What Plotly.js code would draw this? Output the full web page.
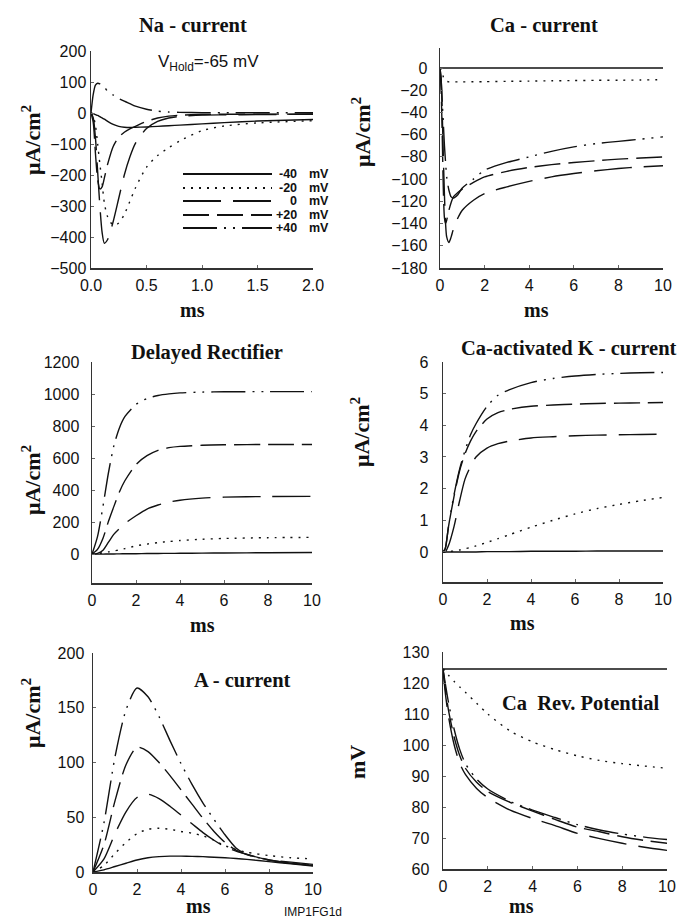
<!DOCTYPE html>
<html><head><meta charset="utf-8">
<script src="https://cdn.plot.ly/plotly-3.0.1.min.js"></script>
<style>html,body{margin:0;padding:0;background:#fff}#chart{width:684px;height:918px}</style>
</head><body><div id="chart"></div>
<script>
// Voltage steps (legend)
const voltages = ['-40', '-20', '0', '+20', '+40'];
const voltUnit = 'mV';

// Na current (ms, uA/cm2)
const naT   = [0,0.02,0.04,0.06,0.08,0.10,0.12,0.15,0.20,0.25,0.30,0.35,0.40,0.50,0.60,0.70,0.80,1.0,1.2,1.5,2.0];
const naM40 = [0,-2,-5,-8,-12,-16,-20,-27,-37,-43,-46,-47,-46,-45,-43,-41,-39,-35,-31,-26,-21];
const naM20 = [0,-10,-40,-100,-165,-225,-290,-335,-362,-355,-327,-285,-242,-175,-137,-112,-90,-57,-42,-32,-25];
const na0   = [0,-15,-80,-190,-300,-385,-420,-408,-350,-275,-200,-142,-98,-50,-27,-16,-11,-7,-6,-5,-4];
const naP20 = [0,-30,-130,-215,-245,-238,-210,-165,-108,-78,-62,-51,-43,-27,-16,-10,-7,-5,-4,-4,-3];
const naP40 = [0,60,90,96,94,89,84,70,58,47,38,30,22,12,6,3,2,1,1,1,1];

// Ca current
const caT   = [0,0.05,0.1,0.15,0.2,0.25,0.3,0.4,0.5,0.6,0.8,1.0,1.5,2,3,4,5,6,7,8,9,10];
const caM40 = [0,0,0,0,0,0,0,0,0,0,0,0,0,0,0,0,0,0,0,0,0,0];
const caM20 = [0,-2,-5,-8,-10,-11.5,-12,-12.5,-12.5,-12.5,-12.5,-12.5,-12.4,-12.3,-12,-11.8,-11.5,-11.3,-11.1,-11,-10.8,-10.5];
const ca0   = [0,-10,-40,-80,-115,-140,-152,-157,-152,-145,-135,-128,-119,-113,-107,-102,-98,-95,-92.5,-90.5,-89,-88];
const caP20 = [0,-20,-60,-110,-135,-140,-137,-128,-121,-116,-112,-109,-103,-98,-93,-89.5,-87,-85,-83.5,-82,-81,-80];
const caP40 = [0,-10,-30,-50,-70,-85,-98,-110,-116,-117,-114,-108,-100,-92,-85,-80,-75,-71,-68,-66,-64,-62];

// Delayed rectifier
const krT   = [0,0.25,0.5,0.75,1,1.25,1.5,2,2.5,3,3.5,4,5,6,8,10];
const krM40 = [0,0,0.5,1,1.5,2,2.5,3,4,4.5,5,5.5,6.5,7.5,9,10];
const krM20 = [0,3,8,14,20,27,35,52,63,72,79,85,93,98,103,105];
const kr0   = [0,5,25,75,125,160,192,240,282,307,325,337,350,356,360,361];
const krP20 = [0,30,100,205,300,390,460,560,615,648,665,673,680,683,685,685];
const krP40 = [0,110,300,510,680,790,860,935,972,991,1001,1007,1012,1014,1015,1015];

// Ca-activated K current
const kcaT   = [0,0.1,0.25,0.5,0.75,1,1.25,1.5,2,2.5,3,4,5,6,7,8,9,10];
const kcaM40 = [0,0,0,0,0,0,0,0,0.01,0.01,0.01,0.02,0.02,0.02,0.03,0.03,0.03,0.03];
const kcaM20 = [0,0,0.01,0.03,0.06,0.1,0.14,0.19,0.3,0.42,0.54,0.78,1.0,1.2,1.37,1.5,1.62,1.72];
const kca0   = [0,0,0.2,0.8,1.6,2.3,2.7,3.0,3.28,3.42,3.5,3.6,3.64,3.67,3.69,3.7,3.71,3.72];
const kcaP20 = [0,0.1,0.8,1.75,2.55,3.1,3.5,3.8,4.2,4.4,4.5,4.6,4.64,4.67,4.69,4.7,4.71,4.72];
const kcaP40 = [0,0.1,0.8,1.8,2.6,3.2,3.7,4.05,4.6,4.95,5.12,5.35,5.48,5.56,5.61,5.64,5.66,5.67];

// A current
const aT   = [0,0.5,1,1.5,2,2.5,3,3.5,4,4.5,5,5.5,6,6.5,7,8,9,10];
const aM40 = [0,2,5,8,11,13,14,14.5,14.5,14.3,14,13.5,13,12.3,11.5,9.5,7.5,5.5];
const aM20 = [0,6,17,27,35,39,40,39,37,35.5,33,29,24,20.5,18,15,13,12];
const a0   = [0,12,35,55,68,71,67,60,52,44,36,29,23,19,16,11,9,7];
const aP20 = [0,25,65,98,114,110,100,88,75,62,49,37,27,20,16,11,8,6];
const aP40 = [0,45,105,148,168,160,142,120,99,80,63,48,34,22,16,11,8,6];

// Ca reversal potential (mV)
const erT   = [0,0.1,0.25,0.5,0.75,1,1.5,2,3,4,5,6,7,8,9,10];
const erM40 = [124.5,124.5,124.5,124.5,124.5,124.5,124.5,124.5,124.5,124.5,124.5,124.5,124.5,124.5,124.5,124.5];
const erM20 = [124.5,124,122.5,120.5,118.7,117,113.5,110,104.5,101,98.5,96.5,95,94,93.2,92.5];
const er0   = [124.5,117,109,100,94,90.5,86,83,79,76.3,74,71.5,69.8,68.3,67,66];
const erP20 = [124.5,118.5,111,102.5,96.5,92.5,88,85,81.5,78.7,76,73.5,72,70.4,69.2,68.3];
const erP40 = [124.5,120,113.5,105,98.5,94,89,85.8,81.8,79,76.6,74.3,72.6,71.3,70.3,69.5];

// ---------- styling ----------
const W = 684, H = 918;
const px = x => x / W, py = y => 1 - y / H;
const INK = '#111';
const SERIF = 'Liberation Serif, Times New Roman, serif';
const SANS = 'Liberation Sans, Arial, sans-serif';
const dashes = ['solid', '2px,6px', '38px,12px', '26px,8px', '34px,7px,2px,7px,2px,7px'];

function series(xa, ya, t, ys) {
  return ys.map((y, i) => ({
    x: t, y: y, xaxis: xa, yaxis: ya, type: 'scatter', mode: 'lines',
    name: voltages[i] + ' ' + voltUnit, showlegend: false, hoverinfo: 'skip',
    line: {color: INK, width: 1.4, dash: dashes[i], shape: 'spline', smoothing: 0.7}
  }));
}

const traces = [].concat(
  series('x', 'y', naT, [naM40, naM20, na0, naP20, naP40]),
  series('x2', 'y2', caT, [caM40, caM20, ca0, caP20, caP40]),
  series('x3', 'y3', krT, [krM40, krM20, kr0, krP20, krP40]),
  series('x4', 'y4', kcaT, [kcaM40, kcaM20, kca0, kcaP20, kcaP40]),
  series('x5', 'y5', aT, [aM40, aM20, a0, aP20, aP40]),
  series('x6', 'y6', erT, [erM40, erM20, er0, erP20, erP40])
);

function xax(x0, x1, range, tickvals, fmt, anchor) {
  return {domain: [px(x0), px(x1)], range: range, anchor: anchor, tickvals: tickvals, tickformat: fmt,
    showline: true, linecolor: '#333', linewidth: 1.5, showgrid: false, zeroline: false,
    ticks: 'inside', ticklen: 3, tickcolor: '#666', ticklabelstandoff: 2,
    tickfont: {family: SANS, size: 16, color: INK}, fixedrange: true};
}
function yax(y0, y1, range, tickvals, anchor, standoff) {
  return {domain: [py(y1), py(y0)], range: range, anchor: anchor, tickvals: tickvals,
    showline: true, linecolor: '#333', linewidth: 1.5, showgrid: false, zeroline: false,
    ticks: 'inside', ticklen: 3, tickcolor: '#666', ticklabelstandoff: standoff,
    tickfont: {family: SANS, size: 16, color: INK}, fixedrange: true};
}

const range10 = [0, 10], ticks10 = [0, 2, 4, 6, 8, 10];

const layout = {
  width: W, height: H, margin: {l: 0, r: 0, t: 0, b: 0},
  paper_bgcolor: '#fff', plot_bgcolor: 'rgba(0,0,0,0)', showlegend: false,
  xaxis:  xax(91, 313, [0, 2], [0, 0.5, 1, 1.5, 2], '.1f', 'y'),
  yaxis:  yax(51, 268, [-500, 200], [-500, -400, -300, -200, -100, 0, 100, 200], 'x', 0),
  xaxis2: xax(440, 663, range10, ticks10, '', 'y2'),
  yaxis2: yax(48, 268, [-180, 18], [-180, -160, -140, -120, -100, -80, -60, -40, -20, 0], 'x2', 8),
  xaxis3: xax(92, 312, range10, ticks10, '', 'y3'),
  yaxis3: yax(362, 583, [-180, 1200], [0, 200, 400, 600, 800, 1000, 1200], 'x3', 8),
  xaxis4: xax(443, 663, range10, ticks10, '', 'y4'),
  yaxis4: yax(362, 582, [-0.95, 6], [0, 1, 2, 3, 4, 5, 6], 'x4', 10),
  xaxis5: xax(93, 313, range10, ticks10, '', 'y5'),
  yaxis5: yax(653, 872, [0, 200], [0, 50, 100, 150, 200], 'x5', 4),
  xaxis6: xax(443, 667, range10, ticks10, '', 'y6'),
  yaxis6: yax(652, 869, [60, 130], [60, 70, 80, 90, 100, 110, 120, 130], 'x6', 9),
  annotations: [],
  shapes: []
};

function txt(x, y, text, font, extra) {
  layout.annotations.push(Object.assign({xref: 'paper', yref: 'paper', x: px(x), y: py(y), text: text,
    showarrow: false, xanchor: 'center', yanchor: 'middle', font: font}, extra || {}));
}
const titleFont = {family: SERIF, size: 20.5, color: INK, weight: 'bold'};
const labFont = {family: SERIF, size: 20, color: INK, weight: 'bold'};
const ylabFont = {family: SERIF, size: 22, color: INK, weight: 'bold'};

// panel titles
txt(193, 25, 'Na - current', titleFont);
txt(544, 25, 'Ca - current', titleFont);
txt(207, 352, 'Delayed Rectifier', titleFont);
txt(569, 348, 'Ca-activated K - current', titleFont);
txt(242, 680, 'A - current', titleFont);
txt(580, 703, 'Ca&nbsp;&nbsp;Rev. Potential', titleFont);

// x-axis titles
txt(192, 310, 'ms', labFont);
txt(536, 310, 'ms', labFont);
txt(202, 625, 'ms', labFont);
txt(522, 623, 'ms', labFont);
txt(198, 906, 'ms', labFont);
txt(521, 906, 'ms', labFont);

// y-axis titles
const yl = 'μA/cm<sup>2</sup>';
txt(31, 140, yl, ylabFont, {textangle: -90});
txt(361, 132, yl, ylabFont, {textangle: -90});
txt(31, 480, yl, ylabFont, {textangle: -90});
txt(360, 432, yl, ylabFont, {textangle: -90});
txt(31, 713, yl, ylabFont, {textangle: -90});
txt(357, 762, 'mV', ylabFont, {textangle: -90});

// holding potential note & figure id
txt(208, 63, 'V<sub>Hold</sub>=-65 mV', {family: SANS, size: 17, color: INK});
txt(313, 912, 'IMP1FG1d', {family: SANS, size: 12, color: INK});

// legend (Na panel)
const legRows = [174, 188, 201, 215, 228];
voltages.forEach((v, i) => {
  layout.shapes.push({type: 'line', xref: 'paper', yref: 'paper', x0: px(183), x1: px(272),
    y0: py(legRows[i]), y1: py(legRows[i]), line: {color: INK, width: 2, dash: dashes[i]}});
  txt(299, legRows[i], v, {family: SANS, size: 12.5, color: INK, weight: 'bold'}, {xanchor: 'right'});
  txt(307, legRows[i], voltUnit, {family: SANS, size: 12.5, color: INK, weight: 'bold'}, {xanchor: 'left'});
});

Plotly.newPlot('chart', traces, layout, {staticPlot: true, displayModeBar: false});
</script>
</body></html>
